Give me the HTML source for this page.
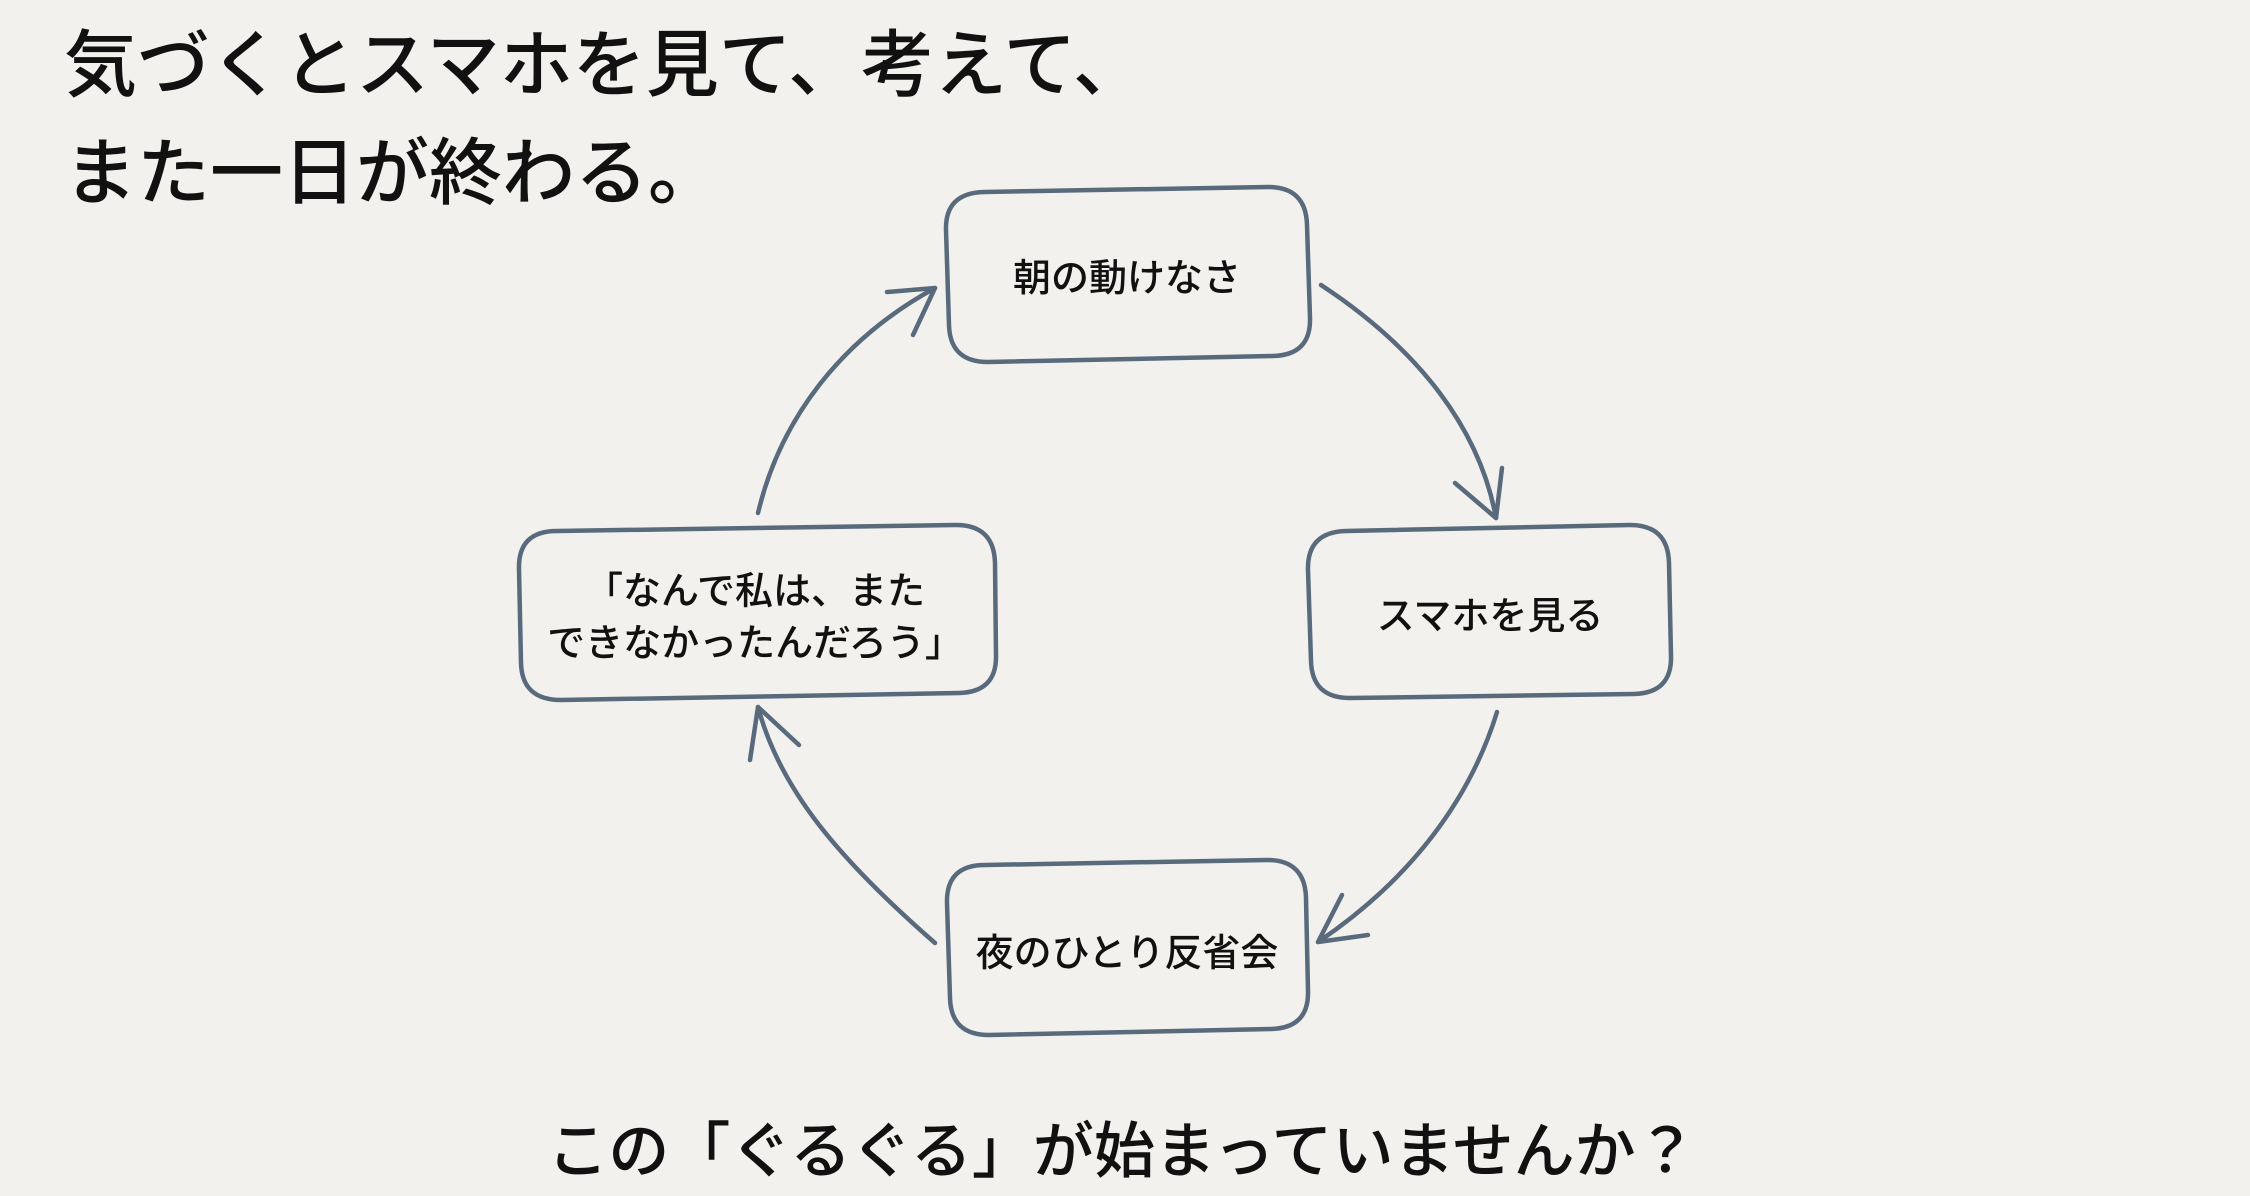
<!DOCTYPE html>
<html lang="ja">
<head>
<meta charset="utf-8">
<style>
  html, body { margin: 0; padding: 0; }
  body { width: 2250px; height: 1196px; background: #f2f1ee; overflow: hidden; }
  svg { display: block; }
  .title { font-family: "Liberation Sans", "Noto Sans CJK JP", sans-serif; font-size: 73px; fill: #111; font-weight: 500; }
  .node { font-family: "Liberation Sans", "Noto Sans CJK JP", sans-serif; font-size: 38px; fill: #111; font-weight: 500; }
  .foot { font-family: "Liberation Sans", "Noto Sans CJK JP", sans-serif; font-size: 61px; fill: #111; font-weight: 500; }
  .ln { fill: none; stroke: #596a7d; stroke-width: 4.5; stroke-linecap: round; stroke-linejoin: round; }
</style>
</head>
<body>
<svg width="2250" height="1196" viewBox="0 0 2250 1196" xmlns="http://www.w3.org/2000/svg">
  <rect x="0" y="0" width="2250" height="1196" fill="#f2f1ee"/>

  <!-- Title -->
  <text class="title" x="64" y="90">気づくとスマホを見て、考えて、</text>
  <text class="title" x="64" y="198">また一日が終わる。</text>

  <!-- Boxes -->
  <path class="ln" d="M984,192 L1268,187 Q1306,187 1307,225 L1310,318 Q1311,355 1273,356 L988,362 Q950,362 949,325 L946,230 Q945,193 984,192 Z"/>
  <path class="ln" d="M1346,531 L1630,525 Q1668,525 1669,563 L1671,656 Q1672,693 1634,694 L1350,698 Q1312,698 1311,661 L1308,570 Q1307,532 1346,531 Z"/>
  <path class="ln" d="M557,531 L956,525 Q994,525 995,563 L996,655 Q997,692 959,693 L561,700 Q522,700 521,663 L519,569 Q518,531 557,531 Z"/>
  <path class="ln" d="M985,865 L1267,860 Q1305,860 1306,898 L1308,991 Q1309,1028 1271,1029 L989,1035 Q951,1035 950,998 L947,903 Q946,865 985,865 Z"/>

  <!-- Node labels -->
  <text class="node" x="1127" y="291" text-anchor="middle">朝の動けなさ</text>
  <text class="node" x="1490" y="629" text-anchor="middle">スマホを見る</text>
  <text class="node" x="1127" y="966" text-anchor="middle">夜のひとり反省会</text>
  <text class="node" x="755" y="604" text-anchor="middle">「なんで私は、また</text>
  <text class="node" x="755" y="656" text-anchor="middle">できなかったんだろう」</text>

  <!-- Arrows -->
  <path class="ln" d="M1321,285 C1420,350 1480,430 1496,518"/>
  <path class="ln" d="M1455,483 L1496,518 L1502,468"/>
  <path class="ln" d="M1497,712 C1470,800 1410,880 1318,942"/>
  <path class="ln" d="M1342,895 L1318,942 L1368,935"/>
  <path class="ln" d="M935,943 C840,860 780,790 758,707"/>
  <path class="ln" d="M750,760 L758,707 L799,745"/>
  <path class="ln" d="M758,513 C780,420 840,340 935,288"/>
  <path class="ln" d="M887,292 L935,288 L913,335"/>

  <!-- Footer -->
  <text class="foot" x="1122" y="1172" text-anchor="middle">この「ぐるぐる」が始まっていませんか？</text>
</svg>
</body>
</html>
